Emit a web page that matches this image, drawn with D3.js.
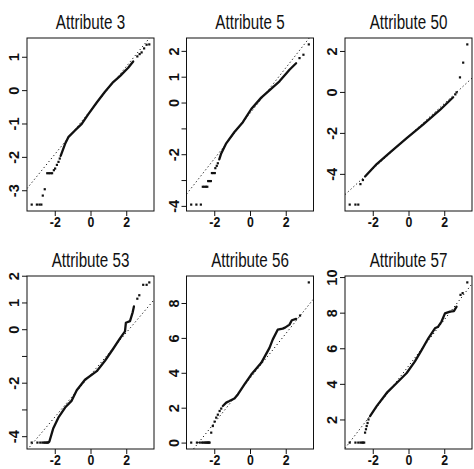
<!DOCTYPE html>
<html><head><meta charset="utf-8">
<script src="https://cdn.jsdelivr.net/npm/d3@7"></script>
<style>
body{margin:0;background:#fff}
svg{display:block}
.title{font-family:"Liberation Sans","Arial",sans-serif;font-size:20px;fill:#111}
.tick text{font-family:"Liberation Sans","Arial",sans-serif;font-size:14.5px;font-weight:bold;fill:#111}
</style>
</head><body>
<svg id="chart" width="474" height="469"></svg>
<script>
// ---------- data ----------
const panelTitles = ["Attribute 3", "Attribute 5", "Attribute 50", "Attribute 53", "Attribute 56", "Attribute 57"];

const xTicks = [-2, 0, 2];
const xTickLabels = ["-2", "0", "2"];

// Attribute 3
const curveA3 = [[-1.67,-1.97],[-1.42,-1.61],[-1.24,-1.41],[-0.87,-1.21],[-0.49,-1.01],[-0.12,-0.72],[0.35,-0.37],[0.81,-0.05],[1.27,0.24],[1.65,0.42],[2.11,0.67],[2.39,0.86]];
const dotsA3 = [[-3.29,-3.43],[-3.0,-3.43],[-2.86,-3.43],[-2.75,-3.43],[-2.67,-3.16],[-2.56,-2.97],[-2.42,-2.49],[-2.33,-2.49],[-2.24,-2.49],[-2.15,-2.49],[-2.05,-2.40],[-1.98,-2.35],[-1.88,-2.24],[-1.79,-2.15],[-1.72,-2.05],[2.62,1.01],[2.75,1.08],[2.86,1.13],[3.0,1.25],[3.14,1.36],[3.29,1.37]];
const qqlineA3 = [-0.61, 0.658];
const yTicksA3 = [-3, -2, -1, 0, 1];
const yLabelsA3 = ["-3", "-2", "-1", "0", "1"];

// Attribute 5
const curveA5 = [[-1.72,-2.2],[-1.61,-1.97],[-1.33,-1.58],[-0.87,-1.14],[-0.40,-0.76],[0.07,-0.25],[0.63,0.19],[1.18,0.53],[1.65,0.82],[2.21,1.27],[2.58,1.52]];
const dotsA5 = [[-3.29,-3.95],[-3.0,-3.95],[-2.75,-3.95],[-2.64,-3.26],[-2.55,-3.26],[-2.47,-3.26],[-2.39,-3.26],[-2.34,-3.04],[-2.26,-3.04],[-2.19,-3.04],[-2.13,-2.73],[-2.05,-2.73],[-1.97,-2.73],[-1.94,-2.54],[-1.86,-2.45],[-1.80,-2.35],[2.77,1.72],[2.99,1.85],[3.29,2.25]];
const qqlineA5 = [-0.42, 0.88];
const yTicksA5 = [-4, -3, -2, -1, 0, 1, 2];
const yLabelsA5 = ["-4", "", "-2", "", "0", "1", "2"];

// Attribute 50
const curveA50 = [[-2.43,-4.13],[-1.78,-3.52],[-1.03,-2.95],[-0.10,-2.25],[0.83,-1.58],[1.76,-0.88],[2.50,-0.26]];
const dotsA50 = [[-3.29,-5.5],[-2.97,-5.5],[-2.81,-5.5],[-2.69,-4.5],[-2.55,-4.3],[2.62,-0.12],[2.69,-0.02],[2.88,0.71],[3.06,1.43],[3.29,2.32]];
const qqlineA50 = [-2.17, 0.80];
const yTicksA50 = [-4, -2, 0, 2];
const yLabelsA50 = ["-4", "-2", "0", "2"];

// Attribute 53
const curveA53 = [[-2.30,-4.2],[-2.08,-3.70],[-1.80,-3.31],[-1.42,-2.93],[-1.05,-2.67],[-0.77,-2.28],[-0.31,-1.89],[0.35,-1.57],[0.81,-1.18],[1.27,-0.73],[1.65,-0.34],[1.93,-0.08],[1.98,0.24],[2.21,0.30],[2.36,0.63],[2.43,0.85]];
const dotsA53 = [[-3.29,-4.24],[-2.97,-4.24],[-2.81,-4.24],[-2.69,-4.24],[-2.61,-4.24],[-2.54,-4.24],[-2.48,-4.24],[-2.43,-4.24],[-2.38,-4.24],[-2.34,-4.22],[2.62,1.14],[2.73,1.27],[2.95,1.66],[3.14,1.66],[3.29,1.75]];
const qqlineA53 = [-1.71, 0.79];
const yTicksA53 = [-4, -3, -2, -1, 0, 1, 2];
const yLabelsA53 = ["-4", "", "-2", "", "0", "1", "2"];

// Attribute 56
const curveA56 = [[-1.52,2.10],[-1.33,2.29],[-1.15,2.38],[-0.87,2.53],[-0.68,2.76],[-0.31,3.33],[0.07,3.90],[0.63,4.57],[1.09,5.43],[1.27,5.90],[1.55,6.47],[1.83,6.53],[1.96,6.59],[2.21,6.76],[2.34,7.01],[2.58,7.09]];
const dotsA56 = [[-3.29,0],[-2.97,0],[-2.81,0],[-2.69,0],[-2.61,0],[-2.54,0],[-2.48,0],[-2.43,0],[-2.38,0],[-2.34,0],[-2.30,0],[-2.26,0],[-2.17,0.57],[-2.08,0.95],[-1.98,1.2],[-1.89,1.43],[-1.80,1.6],[-1.70,1.81],[-1.61,1.95],[2.80,7.28],[3.29,9.18]];
const qqlineA56 = [3.68, 1.28];
const yTicksA56 = [0, 2, 4, 6, 8];
const yLabelsA56 = ["0", "2", "4", "6", "8"];

// Attribute 57
const curveA57 = [[-2.15,2.19],[-1.78,2.75],[-1.22,3.49],[-0.66,4.05],[-0.10,4.61],[0.36,5.26],[0.74,5.91],[1.11,6.56],[1.48,7.12],[1.66,7.21],[1.85,7.50],[2.04,7.96],[2.32,8.06],[2.54,8.09],[2.69,8.34]];
const dotsA57 = [[-3.29,0.70],[-2.97,0.70],[-2.81,0.70],[-2.69,0.70],[-2.61,0.70],[-2.54,0.70],[-2.48,0.70],[-2.43,1.26],[-2.38,1.45],[-2.34,1.63],[-2.29,1.8],[-2.24,2.0],[2.91,9.0],[3.03,9.1],[3.29,9.7]];
const qqlineA57 = [5.0, 1.30];
const yTicksA57 = [2, 4, 6, 8, 10];
const yLabelsA57 = ["2", "4", "6", "8", "10"];

// ---------- assemble ----------
const panels = [
  {title: panelTitles[0], curve: curveA3,  dots: dotsA3,  qq: qqlineA3,  yt: yTicksA3,  yl: yLabelsA3},
  {title: panelTitles[1], curve: curveA5,  dots: dotsA5,  qq: qqlineA5,  yt: yTicksA5,  yl: yLabelsA5},
  {title: panelTitles[2], curve: curveA50, dots: dotsA50, qq: qqlineA50, yt: yTicksA50, yl: yLabelsA50},
  {title: panelTitles[3], curve: curveA53, dots: dotsA53, qq: qqlineA53, yt: yTicksA53, yl: yLabelsA53},
  {title: panelTitles[4], curve: curveA56, dots: dotsA56, qq: qqlineA56, yt: yTicksA56, yl: yLabelsA56},
  {title: panelTitles[5], curve: curveA57, dots: dotsA57, qq: qqlineA57, yt: yTicksA57, yl: yLabelsA57}
];

const colLefts = [27, 186.5, 345];
const rowTops = [38, 276];
const W = 127, H = 173;
const ink = "#111";

const svg = d3.select("#chart");

function padded(ext) {
  const r = ext[1] - ext[0];
  return [ext[0] - 0.04 * r, ext[1] + 0.04 * r];
}
// condense text horizontally (reference uses a narrow face)
function condense(sel, k) {
  sel.each(function () {
    const n = this.getComputedTextLength();
    if (n > 0) {
      d3.select(this).attr("textLength", n * k).attr("lengthAdjust", "spacingAndGlyphs");
    }
  });
}

panels.forEach((p, i) => {
  const L = colLefts[i % 3], T = rowTops[Math.floor(i / 3)];
  const all = p.curve.concat(p.dots);
  const x = d3.scaleLinear().domain(padded(d3.extent(all, d => d[0]))).range([L, L + W]);
  const y = d3.scaleLinear().domain(padded(d3.extent(all, d => d[1]))).range([T + H, T]);
  const g = svg.append("g");

  const clipId = "clip" + i;
  svg.append("clipPath").attr("id", clipId)
    .append("rect").attr("x", L).attr("y", T).attr("width", W).attr("height", H);

  // reference line (qqline)
  const xd = x.domain();
  g.append("line")
    .attr("clip-path", `url(#${clipId})`)
    .attr("x1", x(xd[0])).attr("y1", y(p.qq[0] + p.qq[1] * xd[0]))
    .attr("x2", x(xd[1])).attr("y2", y(p.qq[0] + p.qq[1] * xd[1]))
    .attr("stroke", ink).attr("stroke-width", 1)
    .attr("stroke-dasharray", "1.2,2.6");

  // dense part of the sample quantiles
  g.append("path")
    .datum(p.curve)
    .attr("d", d3.line().x(d => x(d[0])).y(d => y(d[1])))
    .attr("fill", "none").attr("stroke", ink)
    .attr("stroke-width", 2.3).attr("stroke-linejoin", "round").attr("stroke-linecap", "round");

  // sparse points
  g.selectAll("rect.pt").data(p.dots).join("rect")
    .attr("class", "pt")
    .attr("x", d => x(d[0]) - 1.1).attr("y", d => y(d[1]) - 1.1)
    .attr("width", 2.2).attr("height", 2.2).attr("fill", ink);

  // box
  g.append("rect").attr("x", L).attr("y", T).attr("width", W).attr("height", H)
    .attr("fill", "none").attr("stroke", ink).attr("stroke-width", 1);

  // x axis
  const gx = g.append("g").attr("transform", `translate(0,${T + H})`)
    .call(d3.axisBottom(x).tickValues(xTicks).tickFormat((d, k) => xTickLabels[k]).tickSize(5).tickSizeOuter(0));
  gx.select(".domain").remove();
  gx.selectAll(".tick line").attr("stroke", ink);
  gx.selectAll(".tick text").attr("y", 15.5).attr("dy", 0);
  condense(gx.selectAll(".tick text"), 0.85);

  // y axis (labels parallel to the axis)
  const gy = g.append("g").attr("transform", `translate(${L},0)`)
    .call(d3.axisLeft(y).tickValues(p.yt).tickFormat((d, k) => p.yl[k]).tickSize(5).tickSizeOuter(0));
  gy.select(".domain").remove();
  gy.selectAll(".tick line").attr("stroke", ink);
  gy.selectAll(".tick text")
    .attr("x", 0).attr("y", -8).attr("dy", 0)
    .attr("text-anchor", "middle")
    .attr("transform", "rotate(-90)");

  // title
  const t = g.append("text").attr("class", "title")
    .attr("x", L + W / 2).attr("y", T - 9)
    .attr("text-anchor", "middle").text(p.title);
  condense(t, 0.76);
});
</script>
</body></html>
